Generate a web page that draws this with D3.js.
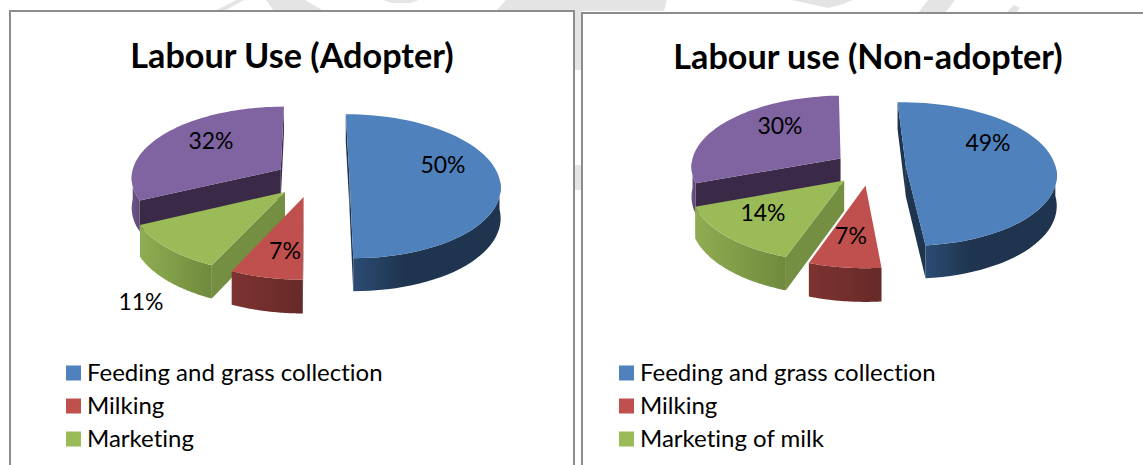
<!DOCTYPE html>
<html>
<head>
<meta charset="utf-8">
<script src="https://cdn.jsdelivr.net/npm/d3@7/dist/d3.min.js"></script>
<style>
html, body { margin: 0; padding: 0; background: #fff; overflow: hidden; }
svg { display: block; font-family: Lato, "Noto Sans", sans-serif; font-variant-ligatures: none; }
</style>
</head>
<body>
<svg width="1143" height="465"></svg>
<script>
var categories = ["Feeding and grass collection", "Milking", "Marketing", "Others"];
var categoriesB = ["Feeding and grass collection", "Milking", "Marketing of milk", "Others"];
var adopterValues = [50, 7, 11, 32];
var nonAdopterValues = [49, 7, 14, 30];

var svg = d3.select("svg");

// top colours, wall colours (left to right), and the dark inner face
var topColor = ["#4f81bd", "#c0504d", "#9bbb59", "#8064a2"];
var wallLeft = ["#2b4c74", "#7d3331", "#8fad52", "#6d5589"];
var wallRight = ["#1f344e", "#662a28", "#6f8a3d", "#5d4875"];
var innerColor = ["#1f344e", "#3a2a48", "#748f42", "#3a2a48"];

var panels = [
	{ title: "Labour Use (Adopter)", titleX: 292, titleY: 68, values: adopterValues, names: categories,
		cx: 312, cy: 179, rotate: 0, explode: 0.25, boxX: 10, boxY: 11, boxW: 564, legendX: 66,
		labels: [[443, 167], [285, 253], [141, 304], [211, 143]] },
	{ title: "Labour use (Non-adopter)", titleX: 868, titleY: 69, values: nonAdopterValues, names: categoriesB,
		cx: 870, cy: 168, rotate: -2, explode: 0.24, boxX: 582, boxY: 13, boxW: 600, legendX: 619,
		labels: [[988, 145], [851, 238], [763, 215], [780, 128]] }
];

var rx = 150, ry = 72, persp = 0.1, depth = 30;
var legendY = d3.scalePoint().domain([0, 1, 2]).range([373, 439]);

// faint watermark behind the panels
var defs = svg.append("defs");
var watermark = ["215,11 236,0 244,0 224,11", "266,0 305,0 324,11 274,11", "383,0 419,0 410,3 392,3",
	"496,11 506,0 667,0 664,11", "791,0 853,0 840,5 828,8 815,5", "918,13 928,0 955,0 945,13",
	"1006,13 1014,5 1020,8 1016,13", "574,0 582,0 582,70 574,70", "574,165 582,165 582,190 574,190"];
svg.selectAll("polygon.wm").data(watermark).enter().append("polygon")
	.attr("class", "wm")
	.attr("points", function(d) { return d; })
	.attr("fill", "#e4e4e4");

panels.forEach(drawPanel);

function drawPanel(p, pi) {
	svg.append("rect")
		.attr("x", p.boxX).attr("y", p.boxY)
		.attr("width", p.boxW).attr("height", 480)
		.attr("fill", "#fff")
		.attr("stroke", "#8c8c8c")
		.attr("stroke-width", 2);

	svg.append("text")
		.attr("x", p.titleX).attr("y", p.titleY)
		.attr("text-anchor", "middle")
		.attr("font-size", 34.2)
		.attr("font-weight", 700)
		.attr("fill", "#000")
		.text(p.title);

	var pie = d3.pie().sort(null)
		.startAngle(p.rotate * Math.PI / 180)
		.endAngle((p.rotate + 360) * Math.PI / 180);
	var arcs = pie(p.values);

	// ground plane (unit disc) to screen, nearer points are drawn larger
	function project(X, Y, z) {
		var s = 1 + persp * Y;
		return [p.cx + rx * X * s, p.cy + ry * Y * s + (z || 0) * s];
	}

	var line = d3.line();

	// back slices first so the front ones overlap them
	[3, 2, 1, 0].forEach(function(i) {
		var a = arcs[i];
		var mid = (a.startAngle + a.endAngle) / 2;
		var ox = p.explode * Math.sin(mid), oy = -p.explode * Math.cos(mid);
		var g = svg.append("g").attr("class", "slice");

		var rim = d3.range(0, 61).map(function(k) {
			var t = a.startAngle + (a.endAngle - a.startAngle) * k / 60;
			return [ox + Math.sin(t), oy - Math.cos(t)];
		});
		var apex = [ox, oy];

		function wall(pts, fill) {
			var top = pts.map(function(q) { return project(q[0], q[1]); });
			var bottom = pts.map(function(q) { return project(q[0], q[1], depth); }).reverse();
			g.append("path")
				.attr("d", line(top.concat(bottom)) + "Z")
				.attr("fill", fill);
		}

		// the straight sides, only when they face the viewer
		if (project(rim[0][0], rim[0][1])[0] < project(apex[0], apex[1])[0]) wall([apex, rim[0]], innerColor[i]);
		var last = rim[rim.length - 1];
		if (project(apex[0], apex[1])[0] < project(last[0], last[1])[0]) wall([last, apex], innerColor[i]);

		// curved outer wall, the part going right to left on screen
		var front = rim.filter(function(q, k) {
			var t = a.startAngle + (a.endAngle - a.startAngle) * k / 60;
			return Math.cos(t) < 0.02;
		});
		if (front.length > 1) {
			var id = "wall" + pi + i;
			var grad = defs.append("linearGradient").attr("id", id);
			grad.append("stop").attr("offset", "0%").attr("stop-color", wallLeft[i]);
			grad.append("stop").attr("offset", i == 0 ? "35%" : "100%").attr("stop-color", wallRight[i]);
			wall(front, "url(#" + id + ")");
		}

		var outline = [apex].concat(rim).map(function(q) { return project(q[0], q[1]); });
		g.append("path")
			.attr("d", line(outline) + "Z")
			.attr("fill", topColor[i]);
	});

	p.labels.forEach(function(pos, i) {
		svg.append("text")
			.attr("x", pos[0]).attr("y", pos[1])
			.attr("text-anchor", "middle")
			.attr("dominant-baseline", "middle")
			.attr("font-size", 23)
			.attr("fill", "#000")
			.text(p.values[i] + "%");
	});

	// the fourth category is cut off by the photo, so the legend shows three rows
	p.names.slice(0, 3).forEach(function(name, i) {
		var y = legendY(i);
		svg.append("rect")
			.attr("x", p.legendX).attr("y", y - 7.5)
			.attr("width", 15).attr("height", 15)
			.attr("fill", topColor[i]);
		svg.append("text")
			.attr("x", p.legendX + 21).attr("y", y + 8)
			.attr("font-size", 24)
			.attr("fill", "#000")
			.text(name);
	});
}
</script>
</body>
</html>
